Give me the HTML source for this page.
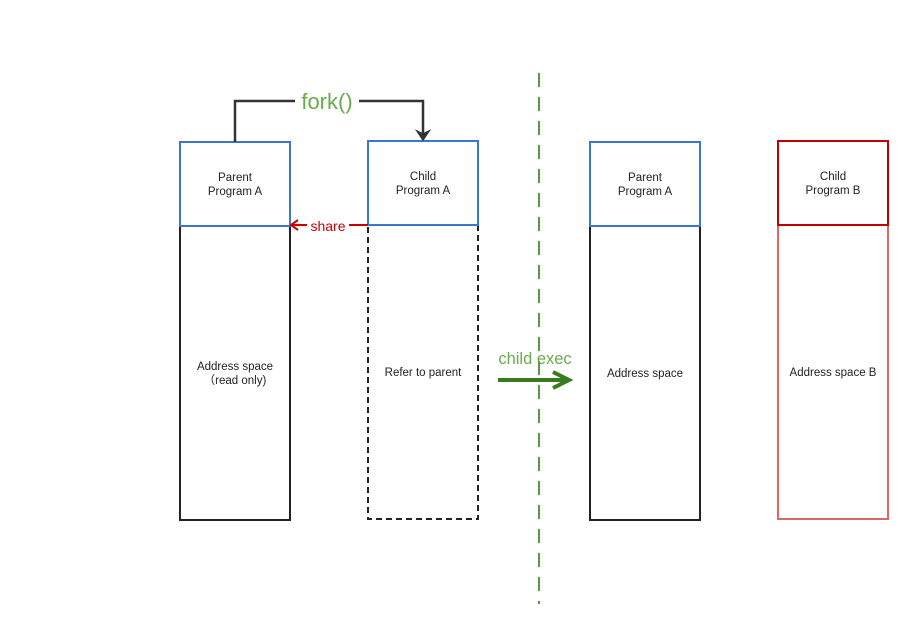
<!DOCTYPE html>
<html><head><meta charset="utf-8"><style>
html,body{margin:0;padding:0;background:#fff;}
svg{display:block;font-family:"Liberation Sans",Arial,sans-serif;}
</style></head><body>
<svg width="908" height="632" viewBox="0 0 908 632">
<rect width="908" height="632" fill="#fff"/>

<!-- Parent A left -->
<g>
<rect x="180" y="226" width="110" height="294" fill="none" stroke="#222" stroke-width="2"/>
<rect x="180" y="142" width="110" height="84" fill="#fff" stroke="#3a78d0" stroke-width="2"/>
<text x="235" y="181" font-size="11.5" text-anchor="middle" fill="#222">Parent</text>
<text x="235" y="195" font-size="11.5" text-anchor="middle" fill="#222">Program A</text>
<text x="235" y="370" font-size="11.5" text-anchor="middle" fill="#222">Address space</text>
<text x="235" y="384" font-size="11.5" text-anchor="middle" fill="#222">（read only)</text>
</g>

<!-- Child A -->
<g>
<rect x="368" y="225" width="110" height="294" fill="none" stroke="#222" stroke-width="2" stroke-dasharray="6,4"/>
<rect x="368" y="141" width="110" height="84" fill="#fff" stroke="#3a78d0" stroke-width="2"/>
<text x="423" y="180" font-size="11.5" text-anchor="middle" fill="#222">Child</text>
<text x="423" y="194" font-size="11.5" text-anchor="middle" fill="#222">Program A</text>
<text x="423" y="376" font-size="11.5" text-anchor="middle" fill="#222">Refer to parent</text>
</g>

<!-- fork arrow -->
<g>
<polyline points="235,142 235,101 423,101 423,134" fill="none" stroke="#333" stroke-width="2.5"/>
<polygon points="417,131 423,140 429,131 423,134" fill="#333" stroke="#333" stroke-width="1.5"/>
<rect x="295" y="86" width="64" height="28" fill="#fff"/>
<text x="327" y="109" font-size="22" text-anchor="middle" fill="#6aab4c">fork()</text>
</g>

<!-- share arrow -->
<g>
<line x1="368" y1="225" x2="292" y2="225" stroke="#cc0000" stroke-width="2"/>
<polyline points="298,220 291,225 298,230" fill="none" stroke="#cc0000" stroke-width="2"/>
<rect x="307" y="217" width="42" height="16" fill="#fff"/>
<text x="328" y="231" font-size="14" text-anchor="middle" fill="#cc0000">share</text>
</g>

<!-- exec arrow -->
<g>
<line x1="498" y1="380" x2="568" y2="380" stroke="#3a7a1e" stroke-width="4"/>
<polyline points="553,372 569,380 553,388" fill="none" stroke="#3a7a1e" stroke-width="4"/>
<text x="535" y="364" font-size="16.5" text-anchor="middle" fill="#6aab4c">child exec</text>
</g>

<!-- divider -->
<line x1="539" y1="73" x2="539" y2="604" stroke="#5b9a3c" stroke-width="2" stroke-dasharray="14,10"/>

<!-- Parent A right -->
<g>
<rect x="590" y="226" width="110" height="294" fill="none" stroke="#222" stroke-width="2"/>
<rect x="590" y="142" width="110" height="84" fill="#fff" stroke="#3a78d0" stroke-width="2"/>
<text x="645" y="181" font-size="11.5" text-anchor="middle" fill="#222">Parent</text>
<text x="645" y="195" font-size="11.5" text-anchor="middle" fill="#222">Program A</text>
<text x="645" y="377" font-size="11.5" text-anchor="middle" fill="#222">Address space</text>
</g>

<!-- Child B -->
<g>
<rect x="778" y="225" width="110" height="294" fill="none" stroke="#e06666" stroke-width="2"/>
<rect x="778" y="141" width="110" height="84" fill="#fff" stroke="#c00000" stroke-width="2"/>
<text x="833" y="180" font-size="11.5" text-anchor="middle" fill="#222">Child</text>
<text x="833" y="194" font-size="11.5" text-anchor="middle" fill="#222">Program B</text>
<text x="833" y="376" font-size="11.5" text-anchor="middle" fill="#222">Address space B</text>
</g>
</svg>
</body></html>
